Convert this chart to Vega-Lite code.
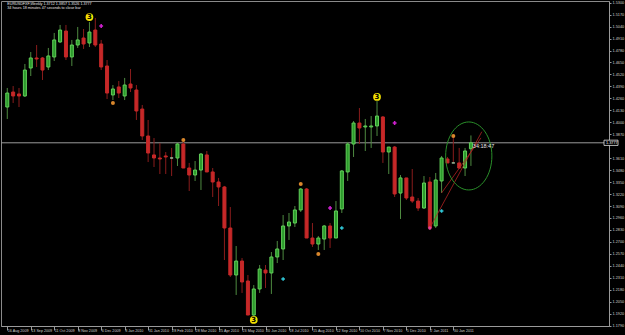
{
  "$schema": "https://vega.github.io/schema/vega-lite/v6.json",
  "width": 608,
  "height": 325,
  "autosize": {"type": "none"},
  "padding": {"left": 1, "top": 1, "right": 16, "bottom": 9},
  "background": "#000000",
  "config": {
    "view": {"stroke": "#8a8a8a", "strokeWidth": 1},
    "font": "Liberation Sans",
    "axis": {"labelOverlap": false, "labelFlush": false, "labelBound": false, "grid": false, "title": null}
  },
  "datasets": {
    "candles": [
      {"d": "2009-08-16", "o": 1.4166, "h": 1.4373, "l": 1.4036, "c": 1.4318},
      {"d": "2009-08-23", "o": 1.4329, "h": 1.4394, "l": 1.4210, "c": 1.4286},
      {"d": "2009-08-30", "o": 1.4308, "h": 1.4373, "l": 1.4166, "c": 1.4286},
      {"d": "2009-09-06", "o": 1.4286, "h": 1.4634, "l": 1.4275, "c": 1.4568},
      {"d": "2009-09-13", "o": 1.4590, "h": 1.4764, "l": 1.4503, "c": 1.4699},
      {"d": "2009-09-20", "o": 1.4699, "h": 1.4840, "l": 1.4601, "c": 1.4688},
      {"d": "2009-09-27", "o": 1.4699, "h": 1.4710, "l": 1.4460, "c": 1.4568},
      {"d": "2009-10-04", "o": 1.4601, "h": 1.4808, "l": 1.4568, "c": 1.4721},
      {"d": "2009-10-11", "o": 1.4710, "h": 1.4971, "l": 1.4666, "c": 1.4895},
      {"d": "2009-10-18", "o": 1.4873, "h": 1.5058, "l": 1.4862, "c": 1.5003},
      {"d": "2009-10-25", "o": 1.4992, "h": 1.5058, "l": 1.4677, "c": 1.4710},
      {"d": "2009-11-01", "o": 1.4710, "h": 1.4895, "l": 1.4612, "c": 1.4840},
      {"d": "2009-11-08", "o": 1.4840, "h": 1.5036, "l": 1.4808, "c": 1.4895},
      {"d": "2009-11-15", "o": 1.4916, "h": 1.5014, "l": 1.4797, "c": 1.4851},
      {"d": "2009-11-22", "o": 1.4862, "h": 1.5090, "l": 1.4818, "c": 1.4981},
      {"d": "2009-11-29", "o": 1.5003, "h": 1.5134, "l": 1.4818, "c": 1.4840},
      {"d": "2009-12-06", "o": 1.4851, "h": 1.4895, "l": 1.4568, "c": 1.4601},
      {"d": "2009-12-13", "o": 1.4612, "h": 1.4677, "l": 1.4253, "c": 1.4318},
      {"d": "2009-12-20", "o": 1.4297, "h": 1.4405, "l": 1.4242, "c": 1.4362},
      {"d": "2009-12-27", "o": 1.4384, "h": 1.4449, "l": 1.4264, "c": 1.4318},
      {"d": "2010-01-03", "o": 1.4286, "h": 1.4482, "l": 1.4242, "c": 1.4405},
      {"d": "2010-01-10", "o": 1.4416, "h": 1.4579, "l": 1.4329, "c": 1.4373},
      {"d": "2010-01-17", "o": 1.4351, "h": 1.4405, "l": 1.4025, "c": 1.4123},
      {"d": "2010-01-24", "o": 1.4144, "h": 1.4188, "l": 1.3808, "c": 1.3851},
      {"d": "2010-01-31", "o": 1.3851, "h": 1.4025, "l": 1.3568, "c": 1.3666},
      {"d": "2010-02-07", "o": 1.3645, "h": 1.3829, "l": 1.3514, "c": 1.3612},
      {"d": "2010-02-14", "o": 1.3612, "h": 1.3775, "l": 1.3438, "c": 1.3601},
      {"d": "2010-02-21", "o": 1.3634, "h": 1.3677, "l": 1.3438, "c": 1.3623},
      {"d": "2010-02-28", "o": 1.3612, "h": 1.3721, "l": 1.3416, "c": 1.3612},
      {"d": "2010-03-07", "o": 1.3612, "h": 1.3775, "l": 1.3525, "c": 1.3764},
      {"d": "2010-03-14", "o": 1.3764, "h": 1.3786, "l": 1.3503, "c": 1.3503},
      {"d": "2010-03-21", "o": 1.3503, "h": 1.3558, "l": 1.3253, "c": 1.3427},
      {"d": "2010-03-28", "o": 1.3427, "h": 1.3579, "l": 1.3362, "c": 1.3481},
      {"d": "2010-04-04", "o": 1.3481, "h": 1.3666, "l": 1.3264, "c": 1.3655},
      {"d": "2010-04-11", "o": 1.3645, "h": 1.3688, "l": 1.3460, "c": 1.3460},
      {"d": "2010-04-18", "o": 1.3460, "h": 1.3503, "l": 1.3188, "c": 1.3351},
      {"d": "2010-04-25", "o": 1.3351, "h": 1.3395, "l": 1.3090, "c": 1.3297},
      {"d": "2010-05-02", "o": 1.3297, "h": 1.3308, "l": 1.2503, "c": 1.2851},
      {"d": "2010-05-09", "o": 1.2851, "h": 1.3079, "l": 1.2318, "c": 1.2340},
      {"d": "2010-05-16", "o": 1.2340, "h": 1.2655, "l": 1.2123, "c": 1.2492},
      {"d": "2010-05-23", "o": 1.2492, "h": 1.2525, "l": 1.2145, "c": 1.2264},
      {"d": "2010-05-30", "o": 1.2275, "h": 1.2340, "l": 1.1905, "c": 1.1905},
      {"d": "2010-06-06", "o": 1.1905, "h": 1.2231, "l": 1.1894, "c": 1.2188},
      {"d": "2010-06-13", "o": 1.2188, "h": 1.2449, "l": 1.2145, "c": 1.2405},
      {"d": "2010-06-20", "o": 1.2394, "h": 1.2449, "l": 1.2199, "c": 1.2362},
      {"d": "2010-06-27", "o": 1.2362, "h": 1.2590, "l": 1.2134, "c": 1.2536},
      {"d": "2010-07-04", "o": 1.2536, "h": 1.2710, "l": 1.2470, "c": 1.2623},
      {"d": "2010-07-11", "o": 1.2623, "h": 1.2992, "l": 1.2503, "c": 1.2873},
      {"d": "2010-07-18", "o": 1.2873, "h": 1.3014, "l": 1.2721, "c": 1.2916},
      {"d": "2010-07-25", "o": 1.2905, "h": 1.3090, "l": 1.2862, "c": 1.3047},
      {"d": "2010-08-01", "o": 1.3047, "h": 1.3286, "l": 1.3025, "c": 1.3275},
      {"d": "2010-08-08", "o": 1.3275, "h": 1.3286, "l": 1.2742, "c": 1.2742},
      {"d": "2010-08-15", "o": 1.2742, "h": 1.2905, "l": 1.2645, "c": 1.2677},
      {"d": "2010-08-22", "o": 1.2677, "h": 1.2764, "l": 1.2612, "c": 1.2742},
      {"d": "2010-08-29", "o": 1.2731, "h": 1.2884, "l": 1.2612, "c": 1.2873},
      {"d": "2010-09-05", "o": 1.2873, "h": 1.2905, "l": 1.2634, "c": 1.2742},
      {"d": "2010-09-12", "o": 1.2742, "h": 1.3144, "l": 1.2742, "c": 1.3036},
      {"d": "2010-09-19", "o": 1.3058, "h": 1.3481, "l": 1.3014, "c": 1.3471},
      {"d": "2010-09-26", "o": 1.3460, "h": 1.3786, "l": 1.3362, "c": 1.3764},
      {"d": "2010-10-03", "o": 1.3764, "h": 1.4014, "l": 1.3623, "c": 1.3992},
      {"d": "2010-10-10", "o": 1.3992, "h": 1.4155, "l": 1.3764, "c": 1.3938},
      {"d": "2010-10-17", "o": 1.3949, "h": 1.4036, "l": 1.3688, "c": 1.3960},
      {"d": "2010-10-24", "o": 1.3949, "h": 1.4068, "l": 1.3721, "c": 1.3960},
      {"d": "2010-10-31", "o": 1.3960, "h": 1.4231, "l": 1.3851, "c": 1.4068},
      {"d": "2010-11-07", "o": 1.4058, "h": 1.4068, "l": 1.3558, "c": 1.3677},
      {"d": "2010-11-14", "o": 1.3677, "h": 1.3731, "l": 1.3438, "c": 1.3731},
      {"d": "2010-11-21", "o": 1.3731, "h": 1.3742, "l": 1.3188, "c": 1.3221},
      {"d": "2010-11-28", "o": 1.3231, "h": 1.3427, "l": 1.2949, "c": 1.3395},
      {"d": "2010-12-05", "o": 1.3395, "h": 1.3395, "l": 1.3155, "c": 1.3177},
      {"d": "2010-12-12", "o": 1.3188, "h": 1.3492, "l": 1.3123, "c": 1.3144},
      {"d": "2010-12-19", "o": 1.3144, "h": 1.3177, "l": 1.3036, "c": 1.3068},
      {"d": "2010-12-26", "o": 1.3068, "h": 1.3416, "l": 1.3058, "c": 1.3340},
      {"d": "2011-01-02", "o": 1.3351, "h": 1.3405, "l": 1.2829, "c": 1.2851},
      {"d": "2011-01-09", "o": 1.2873, "h": 1.3449, "l": 1.2851, "c": 1.3373},
      {"d": "2011-01-16", "o": 1.3362, "h": 1.3634, "l": 1.3232, "c": 1.3612},
      {"d": "2011-01-23", "o": 1.3601, "h": 1.3623, "l": 1.3558, "c": 1.3558},
      {"d": "2011-01-30", "o": 1.3558, "h": 1.3862, "l": 1.3558, "c": 1.3558},
      {"d": "2011-02-06", "o": 1.3558, "h": 1.3721, "l": 1.3492, "c": 1.3503},
      {"d": "2011-02-13", "o": 1.3503, "h": 1.3721, "l": 1.3416, "c": 1.3688},
      {"d": "2011-02-20", "o": 1.3712, "h": 1.3857, "l": 1.3526, "c": 1.3777}
    ],
    "signals": [
      {"d": "2009-12-20", "p": 1.4210, "kind": "dot"},
      {"d": "2010-03-14", "p": 1.3808, "kind": "dot"},
      {"d": "2010-08-01", "p": 1.3329, "kind": "dot"},
      {"d": "2010-08-22", "p": 1.2568, "kind": "dot"},
      {"d": "2011-01-30", "p": 1.3851, "kind": "dot"},
      {"d": "2009-12-06", "p": 1.5047, "kind": "sell"},
      {"d": "2010-09-05", "p": 1.3068, "kind": "sell"},
      {"d": "2010-11-21", "p": 1.3992, "kind": "sell"},
      {"d": "2010-07-11", "p": 1.2297, "kind": "buy"},
      {"d": "2010-09-19", "p": 1.2851, "kind": "buy"},
      {"d": "2011-01-16", "p": 1.3036, "kind": "buy"},
      {"d": "2011-01-02", "p": 1.2851, "kind": "low"}
    ],
    "waves": [
      {"d": "2009-11-22", "p": 1.5144, "label": "3"},
      {"d": "2010-10-31", "p": 1.4275, "label": "3"},
      {"d": "2010-06-06", "p": 1.1851, "label": "3"}
    ],
    "trend": [
      {"d": "2011-01-02T00:00:00Z", "p": 1.2851, "line": "a"},
      {"d": "2011-03-05T00:00:00Z", "p": 1.3898, "line": "a"},
      {"d": "2011-01-16T00:00:00Z", "p": 1.3232, "line": "b"},
      {"d": "2011-03-04T00:00:00Z", "p": 1.3830, "line": "b"}
    ],
    "ellipse": [{"d": "2011-02-17T10:00:00Z", "p": 1.3634}],
    "notes": [
      {"d": "2011-02-22T06:00:00Z", "p": 1.3742, "t": "34:18:47", "size": 5.5},
      {"d": "2009-08-16", "p": 1.5286, "t": "EURUSDFXF,Weekly  1.3712 1.3857 1.3526 1.3777", "size": 3.7},
      {"d": "2009-08-16", "p": 1.5237, "t": "34 hours 18 minutes 47 seconds to close bar", "size": 3.7}
    ],
    "bid": [{"d": "2011-07-28T17:00:00Z", "p": 1.3777, "t": "1.3777"}]
  },
  "encoding": {
    "x": {
      "field": "d", "type": "temporal",
      "scale": {"type": "utc", "domain": [
        {"year": 2009, "month": "Aug", "date": 14, "hours": 11, "minutes": 30, "utc": true},
        {"year": 2011, "month": "Jul", "date": 28, "hours": 17, "utc": true}
      ]},
      "axis": {
        "orient": "bottom",
        "values": [
          {"year": 2009, "month": "Aug", "date": 16, "utc": true},
          {"year": 2009, "month": "Sep", "date": 13, "utc": true},
          {"year": 2009, "month": "Oct", "date": 11, "utc": true},
          {"year": 2009, "month": "Nov", "date": 8, "utc": true},
          {"year": 2009, "month": "Dec", "date": 6, "utc": true},
          {"year": 2010, "month": "Jan", "date": 3, "utc": true},
          {"year": 2010, "month": "Jan", "date": 31, "utc": true},
          {"year": 2010, "month": "Feb", "date": 28, "utc": true},
          {"year": 2010, "month": "Mar", "date": 28, "utc": true},
          {"year": 2010, "month": "Apr", "date": 25, "utc": true},
          {"year": 2010, "month": "May", "date": 23, "utc": true},
          {"year": 2010, "month": "Jun", "date": 20, "utc": true},
          {"year": 2010, "month": "Jul", "date": 18, "utc": true},
          {"year": 2010, "month": "Aug", "date": 15, "utc": true},
          {"year": 2010, "month": "Sep", "date": 12, "utc": true},
          {"year": 2010, "month": "Oct", "date": 10, "utc": true},
          {"year": 2010, "month": "Nov", "date": 7, "utc": true},
          {"year": 2010, "month": "Dec", "date": 5, "utc": true},
          {"year": 2011, "month": "Jan", "date": 2, "utc": true},
          {"year": 2011, "month": "Jan", "date": 30, "utc": true}
        ],
        "labelExpr": "utcFormat(datum.value, '%-d %b %Y')",
        "labelAlign": "left", "labelBaseline": "top", "labelPadding": -2, "labelDx": 1,
        "labelFontSize": 3.7, "labelColor": "#d0d0d0",
        "labelOverlap": false, "labelFlush": false, "labelBound": false,
        "tickSize": 4, "tickColor": "#9a9a9a", "domainColor": "#9a9a9a", "domainWidth": 1
      }
    },
    "y": {
      "type": "quantitative",
      "scale": {"domain": [1.17857, 1.53184], "zero": false, "nice": false},
      "axis": {
        "orient": "right",
        "values": [1.53, 1.517, 1.504, 1.491, 1.478, 1.465, 1.452, 1.439, 1.426, 1.413, 1.4, 1.387, 1.361, 1.348, 1.335, 1.322, 1.309, 1.296, 1.283, 1.27, 1.257, 1.244, 1.231, 1.218, 1.205, 1.192, 1.179],
        "format": ".4f", "labelFontSize": 3.8, "labelColor": "#d0d0d0", "labelPadding": 1,
        "labelOverlap": false, "labelFlush": false, "labelBound": false,
        "tickSize": 2, "tickColor": "#9a9a9a", "domainColor": "#9a9a9a", "domainWidth": 1
      }
    }
  },
  "layer": [
    {
      "data": {"values": [{"p": 1.3777}]},
      "mark": {"type": "rule", "color": "#9a9a9a", "strokeWidth": 1},
      "encoding": {"x": null, "y": {"field": "p", "type": "quantitative"}}
    },
    {
      "data": {"name": "candles"},
      "mark": {"type": "rule", "strokeWidth": 1},
      "encoding": {
        "y": {"field": "l", "type": "quantitative"},
        "y2": {"field": "h"},
        "color": {
          "condition": {"test": "datum.c > datum.o", "value": "#4e8a40"},
          "value": "#8a1c1c"
        }
      }
    },
    {
      "data": {"name": "candles"},
      "mark": {"type": "bar", "size": 3, "strokeWidth": 1},
      "encoding": {
        "y": {"field": "o", "type": "quantitative"},
        "y2": {"field": "c"},
        "fill": {
          "condition": {"test": "datum.c > datum.o", "value": "#2c9a2c"},
          "value": "#c62828"
        },
        "stroke": {
          "condition": [
            {"test": "datum.c > datum.o", "value": "#62d05a"},
            {"test": "datum.c == datum.o", "value": "#a0c0a0"}
          ],
          "value": "#c62828"
        }
      }
    },
    {
      "data": {"name": "trend"},
      "mark": {"type": "line", "color": "#b02222", "strokeWidth": 0.8},
      "encoding": {
        "y": {"field": "p", "type": "quantitative"},
        "detail": {"field": "line"}
      }
    },
    {
      "data": {"name": "ellipse"},
      "mark": {"type": "point", "shape": "M -0.68 0 A 0.68 1 0 1 0 0.68 0 A 0.68 1 0 1 0 -0.68 0 Z", "size": 4624, "filled": false, "stroke": "#2a8f2a", "strokeWidth": 1, "opacity": 1},
      "encoding": {
        "y": {"field": "p", "type": "quantitative"}
      }
    },
    {
      "data": {"name": "signals"},
      "mark": {"type": "point", "filled": true, "opacity": 1},
      "encoding": {
        "y": {"field": "p", "type": "quantitative"},
        "shape": {"field": "kind", "type": "nominal", "legend": null,
          "scale": {"domain": ["dot", "sell", "buy", "low"], "range": ["circle", "cross", "cross", "circle"]}},
        "color": {"field": "kind", "type": "nominal", "legend": null,
          "scale": {"domain": ["dot", "sell", "buy", "low"], "range": ["#d8862c", "#d020d0", "#30c8d8", "#e0409a"]}},
        "size": {"field": "kind", "type": "nominal", "legend": null,
          "scale": {"domain": ["dot", "sell", "buy", "low"], "range": [16, 12, 12, 22]}}
      }
    },
    {
      "data": {"name": "waves"},
      "mark": {"type": "point", "shape": "circle", "filled": true, "color": "#f2e000", "size": 60, "opacity": 1},
      "encoding": {
        "y": {"field": "p", "type": "quantitative"}
      }
    },
    {
      "data": {"name": "waves"},
      "mark": {"type": "text", "color": "#000000", "fontSize": 7, "fontWeight": "bold", "baseline": "middle", "align": "center", "font": "DejaVu Sans"},
      "encoding": {
        "y": {"field": "p", "type": "quantitative"},
        "text": {"field": "label"}
      }
    },
    {
      "data": {"name": "notes"},
      "mark": {"type": "text", "color": "#e8e8e8", "baseline": "middle", "align": "left", "clip": false},
      "encoding": {
        "y": {"field": "p", "type": "quantitative"},
        "text": {"field": "t"},
        "size": {"field": "size", "type": "quantitative", "scale": null}
      }
    },
    {
      "data": {"name": "bid"},
      "mark": {"type": "point", "shape": "M 0 -1 H 5.3 V 1 H 0 Z", "size": 28, "filled": true, "fill": "#000000", "stroke": "#e0e0e0", "strokeWidth": 0.8, "opacity": 1, "clip": false},
      "encoding": {
        "y": {"field": "p", "type": "quantitative"}
      }
    },
    {
      "data": {"name": "bid"},
      "mark": {"type": "text", "color": "#ffffff", "fontSize": 3.8, "align": "left", "baseline": "middle", "dx": 2, "clip": false},
      "encoding": {
        "y": {"field": "p", "type": "quantitative"},
        "text": {"field": "t"}
      }
    }
  ]
}
